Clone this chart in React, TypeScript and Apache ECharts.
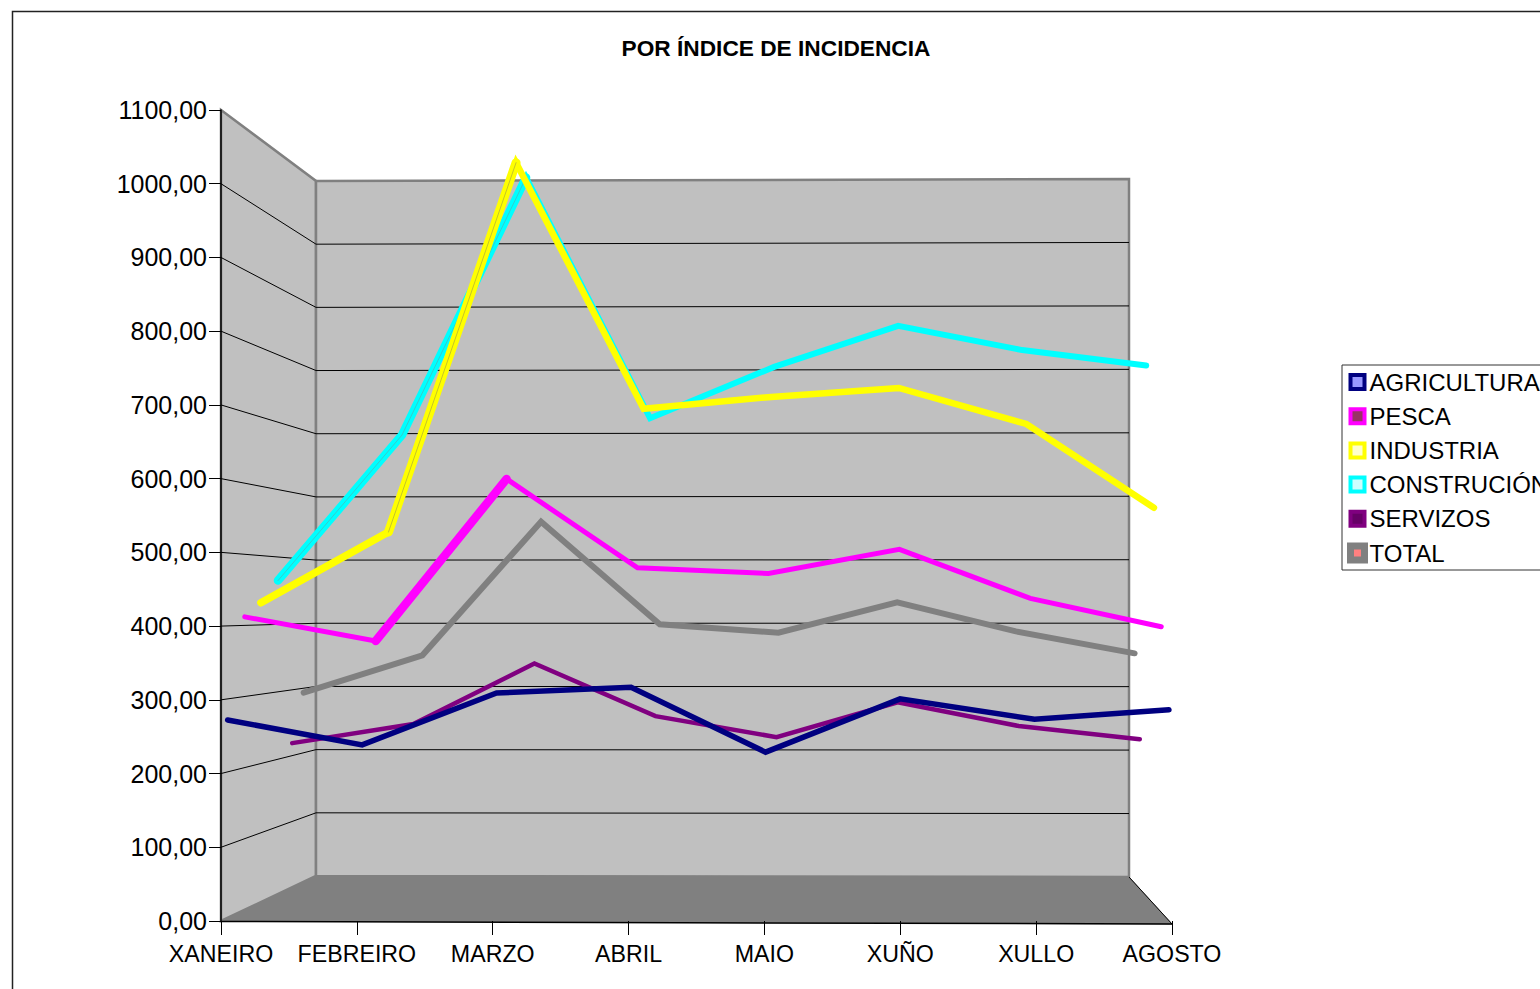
import React, { useEffect, useRef } from "react";
import * as echarts from "echarts";

const months = ["XANEIRO", "FEBREIRO", "MARZO", "ABRIL", "MAIO", "XUÑO", "XULLO", "AGOSTO"];
const agricultura = [271, 237, 308, 316, 227, 300, 272, 285];
const pesca = [412, 378, 606, 481, 473, 507, 438, 398];
const industria = [432, 534, 1067, 712, 729, 742, 690, 569];
const construcion = [465, 681, 1063, 706, 782, 843, 807, 784];
const servizos = [219, 248, 340, 260, 228, 281, 245, 225];
const total = [293, 351, 558, 399, 386, 433, 388, 354];

const FONT = "Liberation Sans";
const seriesDefs = [
  { name: "AGRICULTURA", data: agricultura, color: "#000080", width: 5.5, depth: 0.07, fill: "#9999ff", bw: 4 },
  { name: "PESCA", data: pesca, color: "#ff00ff", width: 5, depth: 0.25, fill: "#993366", bw: 4 },
  { name: "INDUSTRIA", data: industria, color: "#ffff00", width: 6.5, depth: 0.42, fill: "#ffffcc", bw: 4 },
  { name: "CONSTRUCIÓN", data: construcion, color: "#00ffff", width: 6, depth: 0.6, fill: "#ccffff", bw: 4 },
  { name: "SERVIZOS", data: servizos, color: "#800080", width: 4.5, depth: 0.75, fill: "#660066", bw: 4 },
  { name: "TOTAL", data: total, color: "#808080", width: 6, depth: 0.87, fill: "#ff8080", bw: 7 },
];

// Steep stretches of the 3D ribbons look wider, and show a thin seam in the middle.
const ribbonParts = [
  { of: 1, from: 1, to: 2, width: 8.5, color: "#ff00ff" },
  { of: 2, from: 0, to: 1, width: 7.5, color: "#ffff00" },
  { of: 2, from: 1, to: 2, width: 9, color: "#ffff00" },
  { of: 3, from: 0, to: 2, width: 8.5, color: "#00ffff" },
  { of: 3, from: 0, to: 2, width: 0.5, color: "#6a9a9a", lift: 1 },
  { of: 2, from: 1, to: 2, width: 0.5, color: "#8a8a50", lift: 1 },
];

const F = { l: 221, r: 1172, t: 110, b: 921 };
const depthRect = (d: number) => ({
  left: F.l + 95 * d,
  right: 1540 - (F.r - 43 * d),
  top: F.t + 71 * d,
  bottom: 989 - (F.b - 45 * d),
});

function wallGraphics() {
  const gray = "#808080";
  const els: any[] = [
    { type: "polygon", z: -5, shape: { points: [[221, 110], [316, 181], [316, 876], [221, 921]] }, style: { fill: "#c0c0c0", stroke: gray, lineWidth: 2.5 } },
    { type: "polygon", z: -5, shape: { points: [[316, 181], [1129, 179], [1129, 877], [316, 876]] }, style: { fill: "#c0c0c0", stroke: gray, lineWidth: 2.5 } },
    { type: "polygon", z: -4, shape: { points: [[221, 921], [316, 876], [1129, 877], [1172, 924]] }, style: { fill: "#808080", stroke: "#808080", lineWidth: 1 } },
    { type: "line", z: -3, shape: { x1: 1129, y1: 877, x2: 1172, y2: 924 }, style: { stroke: "#000", lineWidth: 1 } },
    { type: "line", z: -3, shape: { x1: 221, y1: 921.5, x2: 1172, y2: 924 }, style: { stroke: "#000", lineWidth: 1.5 } },
    { type: "rect", z: -6, shape: { x: 12.5, y: 11.5, width: 2400, height: 2400 }, style: { fill: "#fff", stroke: "#222", lineWidth: 1.5 } },
  ];
  for (let k = 1; k <= 10; k++) {
    const yf = 921 - (k * 811) / 11;
    const yl = 876 - (k * 695) / 11;
    const yr = 877 - (k * 698) / 11;
    els.push({ type: "polyline", z: -3, shape: { points: [[221, yf], [316, yl], [1129, yr]] }, style: { fill: "none", stroke: "#000", lineWidth: 1 } });
  }
  return els;
}

export default function App() {
  const ref = useRef<HTMLDivElement>(null);
  useEffect(() => {
    document.body.style.margin = "0";
    document.documentElement.style.overflow = "hidden";
    const chart = echarts.init(ref.current!, undefined, { renderer: "svg" });
    const n = seriesDefs.length;
    const zOf = (i: number) => 2 + 3 * (n - i);
    chart.setOption({
      animation: false,
      backgroundColor: "#fff",
      title: {
        text: "POR ÍNDICE DE INCIDENCIA",
        left: 771,
        top: 31,
        textAlign: "center",
        textStyle: { fontFamily: FONT, fontSize: 22.7, fontWeight: "bold", color: "#000" },
      },
      legend: {
        orient: "vertical",
        left: 1342,
        top: 365,
        padding: [5, 5, 5, 5],
        itemGap: 10.2,
        itemWidth: 14,
        itemHeight: 14,
        backgroundColor: "#fff",
        borderColor: "#333",
        borderWidth: 1,
        borderRadius: 0,
        selectedMode: false,
        textStyle: { fontFamily: FONT, fontSize: 24, color: "#000", lineHeight: 24 },
        data: seriesDefs.map((s) => ({
          name: s.name,
          icon: "rect",
          itemStyle: { color: s.fill, borderColor: s.color, borderWidth: s.bw },
        })),
      },
      graphic: { elements: wallGraphics() },
      grid: [
        { left: F.l, right: 1540 - F.r, top: F.t, bottom: 989 - F.b },
        ...seriesDefs.map((s) => depthRect(s.depth)),
      ],
      xAxis: [
        {
          gridIndex: 0,
          type: "category",
          boundaryGap: false,
          data: months,
          axisLine: { show: false },
          axisTick: { show: true, length: 14, lineStyle: { color: "#000", width: 1 }, alignWithLabel: true },
          axisLabel: { interval: 0, margin: 21, fontFamily: FONT, fontSize: 23.2, color: "#000" },
        },
        ...seriesDefs.map((_, i) => ({ gridIndex: i + 1, type: "category", boundaryGap: false, data: months, show: false })),
      ],
      yAxis: [
        {
          gridIndex: 0,
          type: "value",
          min: 0,
          max: 1100,
          interval: 100,
          splitLine: { show: false },
          axisLine: { show: true, lineStyle: { color: "#000", width: 1.5 } },
          axisTick: { show: true, length: 12, lineStyle: { color: "#000", width: 1 } },
          axisLabel: {
            margin: 14,
            fontFamily: FONT,
            fontSize: 25,
            color: "#000",
            formatter: (v: number) => v.toFixed(2).replace(".", ","),
          },
        },
        ...seriesDefs.map((_, i) => ({ gridIndex: i + 1, type: "value", min: 0, max: 1100, show: false, splitLine: { show: false } })),
      ],
      series: [
        ...seriesDefs.map((s, i) => ({
          name: s.name,
          type: "line",
          xAxisIndex: i + 1,
          yAxisIndex: i + 1,
          data: s.data,
          z: zOf(i),
          clip: false,
          silent: true,
          showSymbol: false,
          symbol: "none",
          itemStyle: { color: s.color },
          lineStyle: { color: s.color, width: s.width, cap: "round", join: "miter" },
        })),
        ...ribbonParts.map((p, k) => ({
          name: "ribbon" + k,
          type: "line",
          xAxisIndex: p.of + 1,
          yAxisIndex: p.of + 1,
          data: seriesDefs[p.of].data.map((v, i) => (i >= p.from && i <= p.to ? v : null)),
          z: zOf(p.of) + (p.lift ? 1 : 0),
          clip: false,
          silent: true,
          showSymbol: false,
          symbol: "none",
          itemStyle: { color: p.color },
          lineStyle: { color: p.color, width: p.width, cap: "round", join: "miter" },
        })),
      ],
    });
    return () => chart.dispose();
  }, []);
  return <div ref={ref} style={{ width: 1540, height: 989 }} />;
}
